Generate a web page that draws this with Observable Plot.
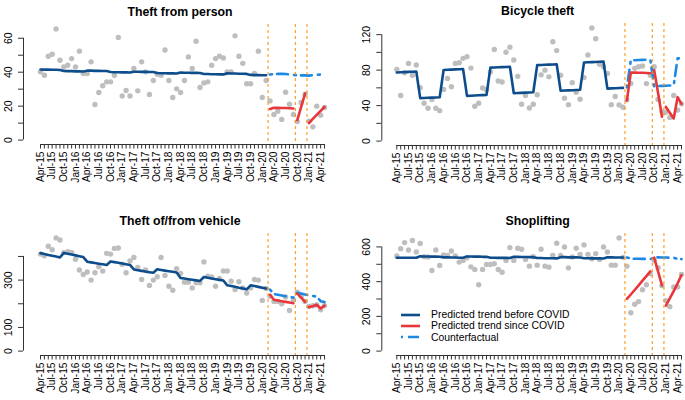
<!DOCTYPE html>
<html><head><meta charset="utf-8">
<script src="https://cdn.jsdelivr.net/npm/d3@7"></script>
<script src="https://cdn.jsdelivr.net/npm/@observablehq/plot@0.6"></script>
<style>
body{margin:0;background:#fff;}
#wrap{position:relative;width:685px;height:400px;overflow:hidden;font-family:"Liberation Sans",Arial,Helvetica,sans-serif;}
.panel{position:absolute;}
.legend{position:absolute;font-size:10.4px;color:#000;line-height:11.4px;}
.legend div{display:flex;align-items:center;height:11.4px;white-space:nowrap;}
.legend svg{margin-right:8px;}
</style></head><body><div id="wrap"></div>
<script>
// x-axis tick labels (every third month, starting Apr-15)
const tickLabels = ["Apr-15","Jul-15","Oct-15","Jan-16","Apr-16","Jul-16","Oct-16","Jan-17","Apr-17","Jul-17","Oct-17","Jan-18","Apr-18","Jul-18","Oct-18","Jan-19","Apr-19","Jul-19","Oct-19","Jan-20","Apr-20","Jul-20","Oct-20","Jan-21","Apr-21"];
// month index of the first month of each COVID period (Mar-20, Oct-20, Jan-21)
const periodStarts = [59, 66, 69];

// ---- Theft from person ----
const personObs = [40.2,38.2,49.4,50.6,65.5,47,43.1,44.1,48,43.1,
 52.4,39.2,39.2,46.1,21,28,32,34.3,34.3,38.2,
 60.4,26,29.2,26,42.2,29,46.1,40.2,26.9,35.1,
 38.8,38.2,53.1,35.1,25.1,30.2,28,35.1,49,42.2,
 58.2,31,33.7,34.3,44.1,48,49.4,48.4,40.2,40.2,
 61.4,49.4,45.2,33.2,33.2,39.2,52.4,25.1,35.1,23.1,
 15.1,17,12.2,28.2,21.1,15.1,10.9,22.2,27,11.2,
 7.8,20,14.7,19.2];
const personPre = [41.6,41.5,41.5,41.4,41.4,41.3, 40.7,40.6,40.6,40.5,40.5,40.4,
 40.9,40.9,40.8,40.8,40.7,40.7, 40.1,40.0,40.0,39.9,39.9,39.8,
 40.3,40.3,40.2,40.2,40.1,40.1, 39.5,39.4,39.4,39.3,39.3,39.2,
 39.8,39.7,39.7,39.6,39.6,39.5, 38.9,38.9,38.8,38.8,38.7,38.7,
 39.3,39.2,39.2,39.1,39.1,39.0, 38.4,38.3,38.3,38.2,38.2];
const personPost = [18.3,19.0,19.0,18.9,18.9,18.8,18.6, 11.8,19.6,27.4, 10.0,12.5,14.9,17.2,19.5];
const personCf = [38.6,38.9,39.0,39.0,38.9,38.7,38.4,38.2,38.1,38.1,38.0,38.3,38.5,38.6,38.7];

// ---- Bicycle theft ----
const bikeObs = [80.8,51.4,77,87.6,74.3,85.7,60.2,42.7,37,46.9,
 37,34.3,58.3,70.5,61.3,87.6,88.4,93.3,95.2,82.3,
 39.2,42.7,59.8,57.9,78,103.2,67.8,66.7,100.2,105.9,
 91.4,73,41.5,51.4,37.3,41.5,52.2,74.7,80,72.4,
 112,102,74.3,48.4,41.1,65.9,55.2,47.2,71.6,97.1,
 127.6,115.4,86.5,83.8,76.2,41.1,50.3,40.8,38.1,46.5,
 65,82,83.8,84.6,64.8,74.3,83.8,47,33,32.4,
 26.7,51.4,35,42];
const bikePre = [77.4,77.6,77.8,78.0,78.2,78.4, 48.4,48.6,48.8,49.0,49.2,49.4,
 80.2,80.4,80.6,80.8,81.0,81.2, 51.0,51.2,51.4,51.6,51.8,52.0,
 82.8,83.0,83.2,83.4,83.6,83.8, 54.0,54.2,54.4,54.6,54.8,55.0,
 85.6,85.8,86.0,86.2,86.4,86.6, 56.8,57.0,57.2,57.4,57.6,57.8,
 88.6,88.8,89.0,89.2,89.4,89.6, 59.2,59.4,59.6,59.8,60.0];
const bikePost = [45.7,77.3,77.2,77.1,77.0,76.8,76.5, 80,54,27.5, 38.5,32,25.5,49.5,42];
const bikeCf = [60.4,91.0,91.2,91.4,91.6,91.8,92.0,61.8,62.0,62.2,62.4,62.6,62.8,93.2,93.4];

// ---- Theft of/from vehicle ----
const vehObs = [410,402.6,442.8,428.3,478.4,469.8,416,419.7,417,388,
 342.6,324,334,300,331,357,338,413,410,434,
 435.5,367,331,381,395.7,353,302.8,342.6,277,300,
 314,395.7,320,274,257,348.6,328.6,291.4,291.4,267,
 288.6,288.6,377,317,312.9,274.3,307,338.6,338.6,295.7,
 260,292.9,267,245.7,267,302.9,300,214.3,264.3,231.4,
 210,210,200,228.6,171.4,217,248.6,231.4,210,188.6,
 191.4,195.7,174.3,191.4];
const vehPre = [414,410,406.5,403,399.5,396, 415,411.5,408,404.5,401,397.5,
 378,375,372,369.5,367,364, 379,376,373,370,367,364,
 345,342,339,336,333.5,331, 346,343,340,337.5,335,332,
 309,306.5,304,301.5,299,296.5, 313,310,307,304,301,298.5,
 278,275,272,268,265,261, 278,275,271.5,268,264.5];
const vehPost = [238,217,214,211,208,205,202, 243,226,208, 186,190,196,180,192];
const vehCf = [260,241,238,235,232,229,226,246,243,239,236,233,230,211,207];

// ---- Shoplifting ----
const shopObs = [547.6,590,625,582.5,637,571,619.4,543.7,541.7,464,
 582.5,493.2,553.4,551.5,576.7,547.6,512.6,522.3,537.9,485.4,
 470,382.5,470,499,499,503,470,454.4,522.3,596,
 522.3,592.2,586.4,528.2,489.3,543.7,495,586.4,489.3,483.5,
 551.5,621.4,551.5,600,479.6,541.7,592.2,557.3,611.7,557.3,
 532,561.2,528.2,600,571,495,495,652,540,489.3,
 221,270,285,353,382,445,522,480,377,291,
 256,369,369,441];
const shopPre = [538,538,538,538,538,538, 546,545,545,544,544,543,
 540,540,539,539,538,538, 545,545,544,544,543,543,
 538,538,537,537,537,536, 543,543,542,542,541,541,
 536,536,535,535,535,534, 541,541,540,540,540,539,
 535,535,534,534,534,533, 540,540,539,539,539];
const shopPost = [301,326,352,379,406,432,459, 538,458,378, 262,303,345,390,438];
const shopCf = [539,533,532,532,531,531,530,540,540,539,539,538,538,531,530];

// legend
const legendItems = [
  {label:"Predicted trend before COVID", color:"#0E4D8C", dash:null},
  {label:"Predicted trend since COVID", color:"#E8373B", dash:null},
  {label:"Counterfactual", color:"#1E88E5", dash:"2,5,11,6"}
];

const C = {pre:"#0E4D8C", post:"#E8373B", cf:"#1E88E5", obs:"#BEBEBE", lock:"#FF8C00", axis:"#333"};
const FONT = "'Liberation Sans', Arial, Helvetica, sans-serif";

const panels = [
 {title:"Theft from person", obs:personObs, pre:personPre, post:personPost, cf:personCf,
  yTicks:d3.range(0,61,10), yLabels:[0,20,40,60],
  left:0, top:0, w:342, mt:24, mb:56, ml:23, mr:3, il:17, ir:15, tdx:-1.5},
 {title:"Bicycle theft", obs:bikeObs, pre:bikePre, post:bikePost, cf:bikeCf,
  yTicks:d3.range(0,121,20), yLabels:[0,40,80,120],
  left:342, top:0, w:343, mt:23, mb:55, ml:39.3, mr:0, il:15, ir:4, tdx:4},
 {title:"Theft of/from vehicle", obs:vehObs, pre:vehPre, post:vehPost, cf:vehCf,
  yTicks:d3.range(0,401,100), yLabels:[0,100,300],
  left:0, top:200, w:342, mt:33, mb:45, ml:23, mr:3, il:17, ir:15, tdx:-1.5},
 {title:"Shoplifting", obs:shopObs, pre:shopPre, post:shopPost, cf:shopCf,
  yTicks:d3.range(0,601,100), yLabels:[0,200,400,600],
  left:342, top:200, w:343, mt:33, mb:45, ml:39.3, mr:0, il:15, ir:4, tdx:4}
];

function drawPanel(cfg){
  const n = cfg.obs.length;
  const idx = d3.range(n);
  const start = periodStarts[0];
  const obsData = cfg.obs.map((v,i)=>({i, v}));
  const preData = cfg.pre.map((v,i)=>({i, v}));
  const postData = cfg.post.map((v,k)=>({i:start+k, v, seg: periodStarts.filter(s => s <= start+k).length}));
  const cfData = cfg.cf.map((v,k)=>({i:start+k, v}));
  const labelIdx = tickLabels.map((_,k)=>3*k);
  return Plot.plot({
    width: cfg.w, height: 200,
    marginLeft: cfg.ml, marginRight: cfg.mr, marginTop: cfg.mt, marginBottom: cfg.mb,
    x: {domain:[0, n-1], insetLeft: cfg.il, insetRight: cfg.ir, label:null},
    y: {domain:[0, d3.max(cfg.obs)], insetTop:4.4, insetBottom:4.4, label:null},
    style: {fontFamily: FONT, fontSize:"10.5px", color:"#000", background:"transparent", overflow:"visible"},
    marks: [
      Plot.dot(obsData, {x:"i", y:"v", r:2.7, fill:C.obs, stroke:null}),
      Plot.line(preData, {x:"i", y:"v", stroke:C.pre, strokeWidth:2.6}),
      Plot.line(cfData, {x:"i", y:"v", stroke:C.cf, strokeWidth:2.6, strokeDasharray:"2,5,11,6"}),
      Plot.line(postData, {x:"i", y:"v", z:"seg", stroke:C.post, strokeWidth:2.6}),
      Plot.ruleX(periodStarts, {x: d => d - 0.5, stroke:C.lock, strokeWidth:1, strokeDasharray:"3,3"}),
      Plot.ruleX([0], {y1:0, y2:cfg.yTicks[cfg.yTicks.length-1], dx:-cfg.il, stroke:C.axis}),
      Plot.frame({anchor:"bottom", insetLeft:cfg.il, insetRight:cfg.ir, stroke:C.axis}),
      Plot.axisY(cfg.yTicks, {tickSize:5, fill:"none", stroke:C.axis, label:null}),
      Plot.axisY(cfg.yLabels, {tickSize:5, stroke:"none", tickRotate:-90, tickPadding:7, label:null, tickFormat:d=>String(d), fontSize:10.5}),
      Plot.axisX(idx, {tickSize:4.5, fill:"none", stroke:C.axis, label:null}),
      Plot.axisX(labelIdx, {tickSize:4.5, stroke:"none", tickRotate:-90, tickPadding:2.5, label:null, tickFormat:d=>tickLabels[d/3], fontSize:10.2}),
      Plot.text([cfg.title], {frameAnchor:"top", dy:-17, dx:cfg.tdx, fontWeight:"bold", fontSize:12.3, fill:"#000"})
    ]
  });
}

const wrap = document.getElementById("wrap");
for (const cfg of panels){
  const div = document.createElement("div");
  div.className = "panel";
  div.style.left = cfg.left + "px";
  div.style.top = cfg.top + "px";
  div.appendChild(drawPanel(cfg));
  wrap.appendChild(div);
}

const leg = document.createElement("div");
leg.className = "legend";
leg.style.left = "399px";
leg.style.top = "309px";
for (const it of legendItems){
  const row = document.createElement("div");
  row.innerHTML = `<svg width="24" height="8"><line x1="2" x2="21" y1="4" y2="4" stroke="${it.color}" stroke-width="2.6" ${it.dash ? `stroke-dasharray="${it.dash}"` : ""}/></svg><span>${it.label}</span>`;
  leg.appendChild(row);
}
wrap.appendChild(leg);
</script>
</body></html>
